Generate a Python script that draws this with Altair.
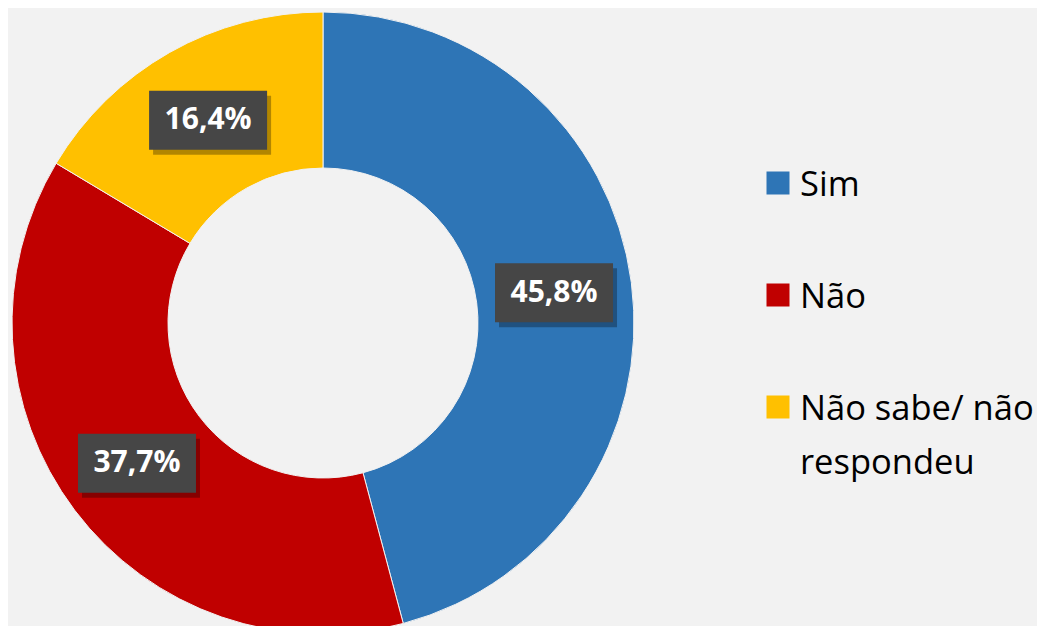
import altair as alt
import pandas as pd
import numpy as np

categories = ["Sim", "Não", "Não sabe/ não respondeu"]
legend_labels = ["Sim", "Não", "Não sabe/ não\nrespondeu"]
values = [45.8, 37.7, 16.4]
labels = ["45,8%", "37,7%", "16,4%"]
colors = ["#2e75b6", "#c00000", "#ffc000"]

R_OUT, R_IN = 311, 155
W, H = 1029, 618
CX, CY = 315, 315

df = pd.DataFrame({
    "cat": categories, "legend": legend_labels, "value": values,
    "label": labels, "order": [0, 1, 2],
})
total = float(sum(values))
cum = np.cumsum(values)
mid = (cum - df["value"] / 2) / total * 2 * np.pi
r_lab = (R_OUT + R_IN) / 2
df["lx"] = r_lab * np.sin(mid)
df["ly"] = r_lab * np.cos(mid)

xs = alt.Scale(domain=[-CX, W - CX], nice=False, zero=False)
ys = alt.Scale(domain=[-(H - CY), CY], nice=False, zero=False)
color = alt.Color("cat:N", scale=alt.Scale(domain=categories, range=colors), legend=None)

base = alt.Chart(df)

arcs = base.mark_arc(radius=R_OUT, radius2=R_IN, stroke="#f2f2f2", strokeWidth=1).encode(
    theta=alt.Theta("value:Q", stack=True),
    order=alt.Order("order:Q"),
    color=color,
    x=alt.XDatum(0, scale=xs, axis=None),
    y=alt.YDatum(0, scale=ys, axis=None),
)

box_path = "M-1,-0.5L1,-0.5L1,0.5L-1,0.5Z"
pos = dict(
    x=alt.X("lx:Q", scale=xs, axis=None),
    y=alt.Y("ly:Q", scale=ys, axis=None),
)

shadow = base.mark_point(
    shape=box_path, size=118 * 118, filled=True, fill="#000000", opacity=0.3,
    strokeWidth=0, xOffset=4, yOffset=5,
).encode(**pos)

boxes = base.mark_point(
    shape=box_path, size=118 * 118, filled=True, fill="#464646", opacity=1, strokeWidth=0,
).encode(**pos)

texts = base.mark_text(
    font="Open Sans", fontWeight="bold", fontSize=30, color="#ffffff",
    baseline="middle", align="center",
).encode(text="label:N", **pos)

donut = alt.layer(arcs, shadow, boxes, texts)

# legend (drawn as its own layer, rows placed by a point scale)
ly_scale = alt.Scale(type="point", domain=categories, range=[175, 399], padding=0)

leg_sym = base.mark_square(size=529, opacity=1, strokeWidth=0).encode(
    x=alt.value(770),
    y=alt.Y("cat:N", scale=ly_scale, axis=None),
    color=color,
)
leg_txt = base.mark_text(
    font="Open Sans", fontSize=34.5, color="#000000", align="left",
    baseline="alphabetic", dy=12.5, lineBreak="\n", lineHeight=54,
).encode(
    x=alt.value(792),
    y=alt.Y("cat:N", scale=ly_scale, axis=None),
    text="legend:N",
)
legend = alt.layer(leg_sym, leg_txt)

chart = alt.layer(donut, legend).resolve_scale(x="independent", y="independent").properties(
    width=W, height=H, autosize=alt.AutoSizeParams(type="none"), padding=0,
    background="#f2f2f2",
).configure_view(stroke=None)

chart.save("out.html", embed_options={"renderer": "svg", "actions": False})
